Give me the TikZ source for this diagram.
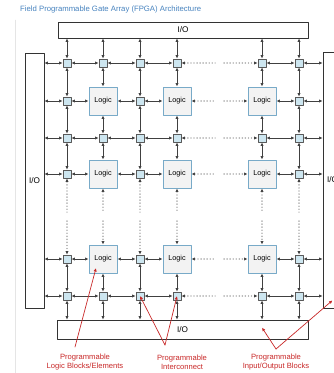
\documentclass[tikz,border=0pt]{standalone}
\usepackage{fontspec}
\setmainfont{Liberation Sans}
\usetikzlibrary{arrows.meta,calc}
\definecolor{swfill}{RGB}{205,230,240}
\definecolor{lgdraw}{RGB}{120,170,200}
\definecolor{lgfill}{RGB}{243,243,243}
\definecolor{annot}{RGB}{200,40,40}
\definecolor{ttl}{RGB}{70,130,190}
\begin{document}
\begin{tikzpicture}[x=0.03cm,y=-0.03cm,line cap=round,line join=round,>={Latex[length=3pt,width=2.8pt]},
	wire/.style={draw=black!75,line width=0.6pt},
	sw/.style={draw=black!65,fill=swfill,line width=0.6pt,minimum size=0.24cm,inner sep=0pt},
	logic/.style={draw=lgdraw,fill=lgfill,line width=0.8pt,minimum size=0.84cm,inner sep=0pt,font=\fontsize{6.2}{7}\selectfont},
	iobox/.style={draw=black!80,fill=white,line width=0.6pt,inner sep=0pt,font=\fontsize{7}{8}\selectfont},
	note/.style={text=annot,align=center,font=\fontsize{6.5}{7.7}\selectfont},
	pointer/.style={draw=annot,line width=0.6pt,->}]
	\useasboundingbox (0,0) rectangle (333,373);
	\draw[black!10] (15,20) -- (15,373);
	\node[anchor=west,text=ttl,font=\fontsize{6.6}{7.5}\selectfont,inner sep=0pt] (title) at (20,10) {Field Programmable Gate Array (FPGA) Architecture};
	% I/O blocks
	\node[iobox,minimum width=7.5cm,minimum height=0.48cm] (iot) at (183,30) {I/O};
	\node[iobox,minimum width=7.53cm,minimum height=0.57cm] (iob) at (182.5,329.5) {I/O};
	\node[iobox,minimum width=0.57cm,minimum height=7.65cm] (iol) at (34.5,180.5) {I/O};
	\node[iobox,minimum width=0.57cm,minimum height=7.68cm] (ior) at (332.5,180) {I/O};
	% switches and logic
	\foreach \x/\a [count=\i from 0] in {67/0,103/1,140/0,177/1,262/1,299/0}{
		\foreach \y/\b [count=\j from 0] in {63/0,101/1,138/0,174/1,259/1,296/0}{
			\ifnum\a\b=11 \node[logic] (n-\i-\j) at (\x,\y) {Logic};
			\else \node[sw] (n-\i-\j) at (\x,\y) {};\fi}}
	% interconnect
	\foreach \j in {0,...,5}{
		\foreach \i/\k in {0/1,1/2,2/3,4/5}{\draw[wire,<->] (n-\i-\j) -- (n-\k-\j);}
		\draw[wire,dotted,<-] (n-3-\j) -- ($(n-3-\j)!.45!(n-4-\j)$);
		\draw[wire,dotted,->] ($(n-3-\j)!.55!(n-4-\j)$) -- (n-4-\j);
		\draw[wire,<->] (iol.east |- n-0-\j) -- (n-0-\j);
		\draw[wire,<->] (n-5-\j) -- (ior.west |- n-5-\j);}
	\foreach \i in {0,...,5}{
		\foreach \j/\k in {0/1,1/2,2/3,4/5}{\draw[wire,<->] (n-\i-\j) -- (n-\i-\k);}
		\draw[wire,dotted,<-] (n-\i-3) -- ($(n-\i-3)!.45!(n-\i-4)$);
		\draw[wire,dotted,->] ($(n-\i-3)!.55!(n-\i-4)$) -- (n-\i-4);
		\draw[wire,<->] (iot.south -| n-\i-0) -- (n-\i-0);
		\draw[wire,<->] (n-\i-5) -- (iob.north -| n-\i-5);}
	% notes
	\node[note] (lb) at (85,362.5) {Programmable\\Logic Blocks/Elements};
	\node[note] (ic) at (182,362.5) {Programmable\\Interconnect};
	\node[note] (ib) at (276,362.5) {Programmable\\Input/Output Blocks};
	\coordinate (lb-p) at (75,347);
	\coordinate (ic-p) at (165,345);
	\coordinate (ib-p) at (276,349);
	\draw[pointer] (lb-p) -- ($(n-1-4.center)+(-7,9)$);
	\draw[pointer] (ic-p) -- (n-2-5.center);
	\draw[pointer] (ic-p) -- (n-3-5.center);
	\draw[pointer] (ib-p) -- ($(iob.north -| n-4-5)+(0,8)$);
	\draw[pointer] (ib-p) -- ($(ior.south)+(0,-8)$);
\end{tikzpicture}
\end{document}
